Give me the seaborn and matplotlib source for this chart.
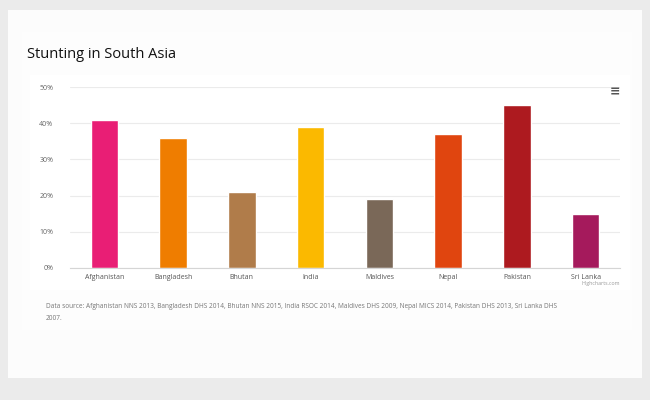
import matplotlib
matplotlib.use("Agg")
import matplotlib.pyplot as plt
import seaborn as sns
import pandas as pd
from matplotlib.patches import Rectangle
from matplotlib.ticker import FixedLocator

countries = ["Afghanistan", "Bangladesh", "Bhutan", "India", "Maldives", "Nepal", "Pakistan", "Sri Lanka"]
stunting = [41, 36, 21, 39, 19, 37, 45, 15]
colors = ["#e91e75", "#ef7d00", "#b07c4a", "#fbb900", "#7a6858", "#e0450f", "#ad1a1f", "#a51a5c"]
yticks = [0, 10, 20, 30, 40, 50]
title = "Stunting in South Asia"
source = ("Data source: Afghanistan NNS 2013, Bangladesh DHS 2014, Bhutan NNS 2015, India RSOC 2014, "
          "Maldives DHS 2009, Nepal MICS 2014, Pakistan DHS 2013, Sri Lanka DHS\n2007.")

df = pd.DataFrame({"country": countries, "value": stunting})

sns.set_theme(style="white")
plt.rcParams["font.family"] = ["Open Sans", "DejaVu Sans"]

fig = plt.figure(figsize=(6.5, 4.0), dpi=100)
fig.patch.set_facecolor("#ebebeb")
# soft white panels
fig.patches.append(Rectangle((8/650, 1-378/400), 634/650, 368/400, transform=fig.transFigure,
                             facecolor="#fcfcfc", edgecolor="none", zorder=-3))
fig.patches.append(Rectangle((22/650, 1-330/400), 610/650, 298/400, transform=fig.transFigure,
                             facecolor="#fdfdfd", edgecolor="none", zorder=-2))
fig.patches.append(Rectangle((30/650, 1-290/400), 600/650, 215/400, transform=fig.transFigure,
                             facecolor="white", edgecolor="none", zorder=-1))

ax = fig.add_axes([70/650, 1-268/400, 550/650, (268-87)/400])
ax.set_zorder(2)
ax.set_facecolor("white")
sns.barplot(data=df, x="country", y="value", hue="country", palette=colors,
            legend=False, width=0.4, ax=ax, saturation=1)

ax.set_ylim(0, 50)
ax.set_xlim(-0.5, len(countries) - 0.5)
ax.set_yticks(yticks)
ax.set_yticklabels([f"{t}%" for t in yticks])
ax.yaxis.grid(True, color="#ebebeb", linewidth=0.8)
ax.set_axisbelow(True)
for s in ["top", "right", "left"]:
    ax.spines[s].set_visible(False)
ax.spines["bottom"].set_color("#d5d5d5")
ax.spines["bottom"].set_linewidth(0.8)
ax.set_xlabel("")
ax.set_ylabel("")
ax.tick_params(axis="y", length=0, labelsize=5, labelcolor="#666666", pad=12)
ax.tick_params(axis="x", length=0, labelsize=5, labelcolor="#555555", pad=4)
ax.xaxis.set_minor_locator(FixedLocator([i - 0.5 for i in range(len(countries) + 1)]))
ax.tick_params(axis="x", which="minor", length=5, color="#d5d5d5", width=0.8)

fig.text(27/650, 1-55/400, title, fontsize=10.5, color="#111111", va="center", ha="left", zorder=3)
fig.text(46/650, 1-312/400, source, fontsize=4.7, color="#777777", va="center", ha="left",
         linespacing=2.0, zorder=3)
fig.text(620/650, 1-283/400, "Highcharts.com", fontsize=3.8, color="#999999", va="center", ha="right", zorder=3)
fig.text(615/650, 1-92/400, "≡", fontsize=9, color="#555555", va="center", ha="center",
         family="DejaVu Sans", fontweight="bold", zorder=3)

fig.savefig("out.png", dpi=100, facecolor=fig.get_facecolor())
